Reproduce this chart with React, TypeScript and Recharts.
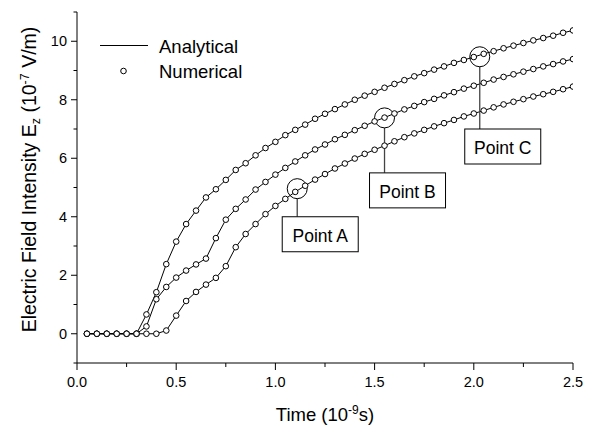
import React from 'react';
import { LineChart, Line, XAxis, YAxis, ReferenceDot, ReferenceLine, Legend } from 'recharts';

const FONT = '"Liberation Sans", Arial, Helvetica, sans-serif';

// ---------- data ----------
const TIME = [
  0.05, 0.10, 0.15, 0.20, 0.25, 0.30, 0.35, 0.40, 0.45, 0.50,
  0.55, 0.60, 0.65, 0.70, 0.75, 0.80, 0.85, 0.90, 0.95, 1.00,
  1.05, 1.10, 1.15, 1.20, 1.25, 1.30, 1.35, 1.40, 1.45, 1.50,
  1.55, 1.60, 1.65, 1.70, 1.75, 1.80, 1.85, 1.90, 1.95, 2.00,
  2.05, 2.10, 2.15, 2.20, 2.25, 2.30, 2.35, 2.40, 2.45, 2.50,
];

const CURVE_TOP = [
  0, 0, 0, 0, 0, 0, 0.66, 1.42, 2.38, 3.15,
  3.75, 4.21, 4.66, 4.94, 5.26, 5.60, 5.83, 6.10, 6.35, 6.56,
  6.79, 6.97, 7.15, 7.35, 7.52, 7.68, 7.84, 8.00, 8.14, 8.27,
  8.41, 8.54, 8.67, 8.80, 8.91, 9.03, 9.14, 9.26, 9.36, 9.46,
  9.57, 9.66, 9.76, 9.85, 9.94, 10.03, 10.11, 10.19, 10.29, 10.37,
];

const CURVE_MID = [
  0, 0, 0, 0, 0, 0, 0.25, 1.18, 1.60, 1.92,
  2.16, 2.37, 2.57, 3.27, 3.90, 4.27, 4.59, 4.93, 5.19, 5.44,
  5.67, 5.89, 6.10, 6.30, 6.47, 6.65, 6.80, 6.96, 7.11, 7.26,
  7.39, 7.53, 7.67, 7.79, 7.92, 8.03, 8.15, 8.26, 8.38, 8.48,
  8.58, 8.69, 8.78, 8.87, 8.96, 9.05, 9.14, 9.22, 9.31, 9.39,
];

const CURVE_LOW = [
  0, 0, 0, 0, 0, 0, 0, 0, 0.11, 0.62,
  1.12, 1.43, 1.68, 1.91, 2.31, 2.96, 3.41, 3.75, 4.09, 4.37,
  4.61, 4.85, 5.06, 5.27, 5.46, 5.65, 5.82, 5.99, 6.15, 6.29,
  6.43, 6.58, 6.72, 6.85, 6.97, 7.09, 7.20, 7.31, 7.43, 7.53,
  7.63, 7.74, 7.84, 7.93, 8.02, 8.11, 8.19, 8.27, 8.36, 8.45,
];

const X_TICKS = [0, 0.25, 0.5, 0.75, 1.0, 1.25, 1.5, 1.75, 2.0, 2.25, 2.5];
const X_MAJOR = [0, 0.5, 1.0, 1.5, 2.0, 2.5];
const Y_TICKS = [-1, 0, 1, 2, 3, 4, 5, 6, 7, 8, 9, 10, 11];
const Y_MAJOR = [0, 2, 4, 6, 8, 10];

const LEGEND_LABELS = ['Analytical', 'Numerical'];

const ANNOT_LABELS = ['Point A', 'Point B', 'Point C'];
const ANNOT_T = [1.11, 1.55, 2.03];
const ANNOT_E = [4.96, 7.38, 9.47];
const ANNOT_BOX_TOP = [4.0, 5.5, 7.0];

// ---------- layout ----------
const W = 590;
const H = 429;
const PLOT_H = 351;
const Y_RANGE = 12;
const CIRCLE_R = 10;
const BOX_W = 76;
const BOX_H = 35;
const BOX_SHIFT = 15;

const data = TIME.map((t, i) => ({ t, top: CURVE_TOP[i], mid: CURVE_MID[i], low: CURVE_LOW[i] }));

const isIn = (arr: number[], v: number) => arr.some((m) => Math.abs(m - v) < 1e-6);

const XTickBottom = (props: any) => {
  const { x, y, payload } = props;
  const v = payload.value;
  const major = isIn(X_MAJOR, v);
  return (
    <g>
      <line x1={x} x2={x} y1={y} y2={y + (major ? 7 : 4)} stroke="#000" strokeWidth={1} />
      {major && (
        <text x={x} y={y + 23.5} textAnchor="middle" fontSize={14.5} fontFamily={FONT} fill="#000">
          {v.toFixed(1)}
        </text>
      )}
    </g>
  );
};

const XTickTop = (props: any) => {
  const { x, y, payload } = props;
  const major = isIn(X_MAJOR, payload.value);
  return <line x1={x} x2={x} y1={y} y2={y - (major ? 7 : 4)} stroke="#000" strokeWidth={1} />;
};

const YTickLeft = (props: any) => {
  const { x, y, payload } = props;
  const v = payload.value;
  const major = isIn(Y_MAJOR, v);
  return (
    <g>
      <line x1={x} x2={x - (major ? 6 : 3.5)} y1={y} y2={y} stroke="#000" strokeWidth={1} />
      {major && (
        <text x={x - 10} y={y} dy="0.36em" textAnchor="end" fontSize={14.5} fontFamily={FONT} fill="#000">
          {String(v)}
        </text>
      )}
    </g>
  );
};

const YTickRight = (props: any) => {
  const { x, y, payload } = props;
  const major = isIn(Y_MAJOR, payload.value);
  return <line x1={x} x2={x + (major ? 6 : 3.5)} y1={y} y2={y} stroke="#000" strokeWidth={1} />;
};

const XTitle = (props: any) => {
  const vb = props.viewBox || {};
  const cx = vb.x + vb.width / 2;
  const by = vb.y + 58;
  return (
    <text x={cx} y={by} textAnchor="middle" fontSize={18.5} fontFamily={FONT} fill="#000">
      <tspan>Time (10</tspan>
      <tspan fontSize={12} dy={-7}>-9</tspan>
      <tspan dy={7}>s)</tspan>
    </text>
  );
};

const YTitle = (props: any) => {
  const vb = props.viewBox || {};
  const bx = vb.x + 19;
  const cy = vb.y + vb.height / 2 - 8;
  return (
    <text
      x={bx}
      y={cy}
      transform={`rotate(-90, ${bx}, ${cy})`}
      textAnchor="middle"
      fontSize={19.5}
      fontFamily={FONT}
      fill="#000"
    >
      <tspan>Electric Field Intensity E</tspan>
      <tspan fontSize={12.5} dy={4}>z</tspan>
      <tspan dy={-4}> (10</tspan>
      <tspan fontSize={12.5} dy={-7}>-7</tspan>
      <tspan dy={7}> V/m)</tspan>
    </text>
  );
};

const renderLegend = () => (
  <svg width={300} height={100} style={{ display: 'block' }}>
    <line x1={100} x2={148} y1={45.5} y2={45.5} stroke="#000" strokeWidth={1} />
    <text x={159} y={53.3} fontSize={18.5} fontFamily={FONT} fill="#000">
      {LEGEND_LABELS[0]}
    </text>
    <circle cx={123.5} cy={71} r={2.8} fill="#fff" stroke="#000" strokeWidth={1} />
    <text x={159} y={78.3} fontSize={18.5} fontFamily={FONT} fill="#000">
      {LEGEND_LABELS[1]}
    </text>
  </svg>
);

const makeBox = (label: string) => (props: any) => {
  const { cx, cy } = props;
  const left = cx - BOX_SHIFT;
  return (
    <g>
      <rect x={left} y={cy} width={BOX_W} height={BOX_H} fill="#fff" stroke="#000" strokeWidth={1} />
      <text x={left + BOX_W / 2} y={cy + 25} textAnchor="middle" fontSize={17.5} fontFamily={FONT} fill="#000">
        {label}
      </text>
    </g>
  );
};

const dotStyle = { r: 2.8, fill: '#fff', stroke: '#000', strokeWidth: 1 };

export default function App() {
  const rDataUnits = CIRCLE_R / (PLOT_H / Y_RANGE);
  return (
    <div style={{ position: 'absolute', left: 0, top: 0, width: W, height: H, background: '#fff' }}>
      <LineChart
        width={W}
        height={H}
        data={data}
        margin={{ top: 12, right: 17, bottom: 0, left: 17 }}
        style={{ fontFamily: FONT }}
      >
        <XAxis
          xAxisId="bottom"
          dataKey="t"
          type="number"
          domain={[0, 2.5]}
          ticks={X_TICKS}
          interval={0}
          tick={XTickBottom}
          tickLine={false}
          tickSize={0}
          tickMargin={0}
          height={66}
          axisLine={{ stroke: '#000', strokeWidth: 1 }}
          allowDataOverflow
          label={<XTitle />}
        />
        <XAxis
          xAxisId="top"
          orientation="top"
          dataKey="t"
          type="number"
          domain={[0, 2.5]}
          ticks={X_TICKS}
          interval={0}
          tick={XTickTop}
          tickLine={false}
          tickSize={0}
          tickMargin={0}
          height={0}
          axisLine={{ stroke: '#000', strokeWidth: 1 }}
          allowDataOverflow
        />
        <YAxis
          yAxisId="left"
          type="number"
          domain={[-1, 11]}
          ticks={Y_TICKS}
          interval={0}
          tick={YTickLeft}
          tickLine={false}
          tickSize={0}
          tickMargin={0}
          width={60}
          axisLine={{ stroke: '#000', strokeWidth: 1 }}
          allowDataOverflow
          label={<YTitle />}
        />
        <YAxis
          yAxisId="right"
          orientation="right"
          type="number"
          domain={[-1, 11]}
          ticks={Y_TICKS}
          interval={0}
          tick={YTickRight}
          tickLine={false}
          tickSize={0}
          tickMargin={0}
          width={0}
          axisLine={{ stroke: '#000', strokeWidth: 1 }}
          allowDataOverflow
        />
        <Legend
          layout="vertical"
          align="center"
          verticalAlign="middle"
          content={renderLegend}
          wrapperStyle={{ left: 0, top: 0, width: 300, height: 100 }}
        />
        <Line xAxisId="bottom" yAxisId="left" dataKey="low" stroke="#000" strokeWidth={1} dot={dotStyle} activeDot={false} isAnimationActive={false} />
        <Line xAxisId="bottom" yAxisId="left" dataKey="mid" stroke="#000" strokeWidth={1} dot={dotStyle} activeDot={false} isAnimationActive={false} />
        <Line xAxisId="bottom" yAxisId="left" dataKey="top" stroke="#000" strokeWidth={1} dot={dotStyle} activeDot={false} isAnimationActive={false} />
        {ANNOT_LABELS.map((label, i) => (
          <ReferenceLine
            key={`seg-${label}`}
            xAxisId="bottom"
            yAxisId="left"
            segment={[
              { x: ANNOT_T[i], y: ANNOT_E[i] - rDataUnits },
              { x: ANNOT_T[i], y: ANNOT_BOX_TOP[i] },
            ]}
            stroke="#444"
            strokeWidth={1.3}
          />
        ))}
        {ANNOT_LABELS.map((label, i) => (
          <ReferenceDot
            key={`circ-${label}`}
            xAxisId="bottom"
            yAxisId="left"
            x={ANNOT_T[i]}
            y={ANNOT_E[i]}
            r={CIRCLE_R}
            fill="none"
            stroke="#000"
            strokeWidth={1}
          />
        ))}
        {ANNOT_LABELS.map((label, i) => (
          <ReferenceDot
            key={`box-${label}`}
            xAxisId="bottom"
            yAxisId="left"
            x={ANNOT_T[i]}
            y={ANNOT_BOX_TOP[i]}
            r={1}
            shape={makeBox(label)}
          />
        ))}
      </LineChart>
    </div>
  );
}
